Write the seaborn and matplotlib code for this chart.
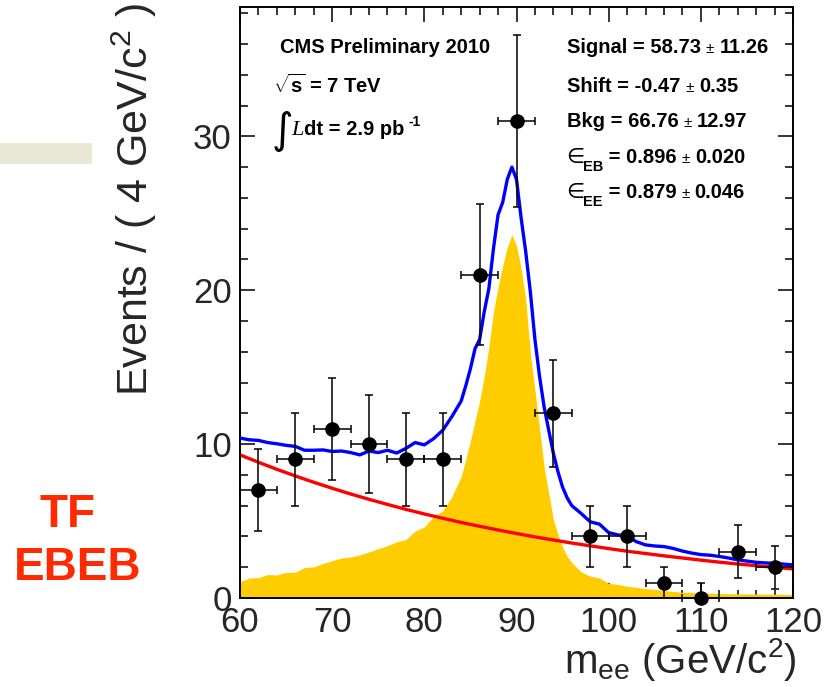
import matplotlib
matplotlib.use("Agg")
import matplotlib.pyplot as plt
from matplotlib.ticker import MultipleLocator
from matplotlib.patches import Rectangle
import numpy as np
import pandas as pd
import seaborn as sns

# ---------------- data ----------------
bin_centers = [62, 66, 70, 74, 78, 82, 86, 90, 94, 98, 102, 106, 110, 114, 118]
counts = [7, 9, 11, 10, 9, 9, 21, 31, 12, 4, 4, 1, 0, 3, 2]
err_low = [2.65, 3.0, 3.32, 3.16, 3.0, 3.0, 4.58, 5.57, 3.46, 2.0, 2.0, 1.0, 0.0, 1.73, 1.41]
err_high = [2.65, 3.0, 3.32, 3.16, 3.0, 3.0, 4.58, 5.57, 3.46, 2.0, 2.0, 1.0, 1.0, 1.73, 1.41]
bin_half_width = 2.0

curve_mass = [60, 61, 62, 63, 64, 65, 66, 67, 68, 69, 70, 71, 72, 73, 74, 75, 76, 77, 78, 79,
              80, 81, 82, 83, 84, 84.5, 85, 85.5, 86, 86.5, 87, 87.5, 88, 88.5, 89, 89.5,
              90, 90.5, 91, 91.5, 92, 92.5, 93, 93.5, 94, 94.5, 95, 95.5, 96, 97, 98, 99,
              100, 101, 102, 103, 104, 105, 106, 107, 108, 109, 110, 111, 112, 113, 114,
              115, 116, 117, 118, 119, 120]
signal_shape = [1.05, 1.3, 1.32, 1.52, 1.5, 1.66, 1.68, 1.98, 2.02, 2.25, 2.42, 2.6, 2.66, 2.8,
                3.0, 3.2, 3.4, 3.65, 3.8, 4.35, 4.62, 5.3, 5.65, 6.6, 7.9, 9.0, 10.2, 11.5,
                12.8, 14.4, 16.3, 18.6, 20.2, 21.6, 22.8, 23.6, 22.9, 21.4, 19.4, 15.9, 13.5,
                11.0, 8.5, 6.8, 5.1, 4.1, 3.3, 2.7, 2.3, 1.7, 1.42, 1.3, 0.95, 0.88, 0.76, 0.7,
                0.6, 0.56, 0.48, 0.43, 0.37, 0.36, 0.3, 0.31, 0.29, 0.28, 0.27, 0.27, 0.26, 0.25,
                0.25, 0.24, 0.24]
total_fit = [10.39, 10.28, 10.24, 10.1, 10.02, 9.92, 9.85, 9.6, 9.6, 9.62, 9.52, 9.55, 9.45,
             9.3, 9.55, 9.45, 9.6, 9.42, 9.72, 10.1, 9.95, 10.35, 10.9, 11.8, 12.8, 13.8, 14.9,
             16.2, 16.8, 18.6, 20.1, 22.7, 24.9, 25.7, 27.2, 28.0, 27.2, 24.7, 22.5, 19.9, 16.8,
             14.4, 12.4, 10.9, 9.4, 8.2, 7.2, 6.5, 6.0, 5.5, 4.95, 4.8, 4.25, 4.1, 4.02, 3.66,
             3.45, 3.38, 3.34, 3.22, 3.05, 2.92, 2.82, 2.78, 2.7, 2.6, 2.48, 2.4, 2.32, 2.28,
             2.25, 2.2, 2.15]

bkg_mass = [60, 62, 64, 66, 68, 70, 72, 74, 76, 78, 80, 82, 84, 86, 88, 90, 92, 94, 96, 98,
            100, 102, 104, 106, 108, 110, 112, 114, 116, 118, 120]
bkg_fit = [9.30, 8.82, 8.36, 7.93, 7.52, 7.13, 6.76, 6.41, 6.08, 5.76, 5.46, 5.18, 4.91, 4.66,
           4.42, 4.19, 3.97, 3.77, 3.57, 3.39, 3.21, 3.04, 2.89, 2.74, 2.60, 2.46, 2.33, 2.21,
           2.10, 1.99, 1.89]

x_ticks = [60, 70, 80, 90, 100, 110, 120]
y_ticks = [0, 10, 20, 30]

fit_lines = [
    "Signal = 58.73", "11.26",
    "Shift = -0.47", "0.35",
    "Bkg = 66.76", "12.97",
]

# ---------------- style ----------------
sns.set_theme(style="ticks")
plt.rcParams["font.family"] = ["Liberation Sans", "DejaVu Sans"]
plt.rcParams["mathtext.fontset"] = "custom"
plt.rcParams["mathtext.rm"] = "Liberation Sans"
plt.rcParams["mathtext.it"] = "Liberation Sans:italic"
plt.rcParams["mathtext.bf"] = "Liberation Sans:bold"

W, H = 836, 687
fig = plt.figure(figsize=(W / 100, H / 100), dpi=100)
fig.patch.set_facecolor("white")
ax = fig.add_axes([240 / W, 1 - 598 / H, 553 / W, 591 / H])
ax.set_facecolor("white")

df_curve = pd.DataFrame({"mass": curve_mass, "signal": signal_shape, "total": total_fit})
df_bkg = pd.DataFrame({"mass": bkg_mass, "bkg": bkg_fit})

ax.fill_between(df_curve["mass"], 0, df_curve["signal"], color="#ffcc00", lw=0, zorder=1)
sns.lineplot(data=df_bkg, x="mass", y="bkg", color="#ff0000", lw=2.4, ax=ax, zorder=2)
sns.lineplot(data=df_curve, x="mass", y="total", color="#0000ff", lw=2.4, ax=ax, zorder=3)

ax.errorbar(bin_centers, counts, yerr=[err_low, err_high], xerr=bin_half_width,
            fmt="o", color="black", ms=9.5, elinewidth=1.1, capsize=2.6, capthick=1.1,
            zorder=5, clip_on=False)

ax.set_xlim(60, 120)
ax.set_ylim(0, 38.4)
ax.set_xticks(x_ticks)
ax.set_yticks(y_ticks)
ax.xaxis.set_minor_locator(MultipleLocator(2))
ax.yaxis.set_minor_locator(MultipleLocator(2))
ax.tick_params(which="both", direction="in", top=True, right=True, color="black")
ax.tick_params(which="major", length=11, width=1.1, labelsize=25, pad=6)
ax.tick_params(which="minor", length=5.5, width=1.1)
ax.tick_params(axis="x", which="major", pad=6)
for sp in ax.spines.values():
    sp.set_linewidth(1.4)
    sp.set_color("black")
ax.set_xlabel("")
ax.set_ylabel("")

# axis titles
fig.text(134 / W, 1 - 3 / H, r"Events / ( 4 GeV/c$^{2}$ )", rotation=90,
         ha="center", va="top", fontsize=31)
fig.text(797 / W, 1 - 673 / H, r"m$_{\mathrm{ee}}$ (GeV/c$^{2}$)",
         ha="right", va="baseline", fontsize=29)

# left decorations
fig.patches.append(Rectangle((0, 1 - 164 / H), 92 / W, 21 / H, transform=fig.transFigure,
                             facecolor="#e9e7d6", edgecolor="none"))
fig.text(67 / W, 1 - 527 / H, "TF", ha="center", va="baseline", fontsize=33,
         fontweight="bold", color="#ff2a00")
fig.text(78 / W, 1 - 580 / H, "EBEB", ha="center", va="baseline", fontsize=33,
         fontweight="bold", color="#ff2a00")

renderer = fig.canvas.get_renderer()


def run_text(x, y, pieces):
    for s, kw, dx, dy in pieces:
        x += dx
        t = fig.text(x / W, 1 - (y + dy) / H, s, ha="left", va="baseline", **kw)
        x += t.get_window_extent(renderer).width


B = dict(fontsize=14.5, fontweight="bold", color="black")
PM = dict(fontsize=11, fontweight="normal", color="black")

run_text(280, 53, [("CMS Preliminary 2010", B, 0, 0)])
run_text(273, 93, [(r"$\sqrt{\mathbf{s}}$ = 7 TeV", B, 0, 0)])
run_text(272, 135, [("\u222b", dict(fontsize=30, family="DejaVu Sans", color="black"), 0, 8),
                    ("L", dict(fontsize=16, family="Liberation Serif", style="italic",
                               color="black"), -2, 0),
                    ("dt = 2.9 pb", B, 0, 0),
                    ("-1", dict(fontsize=10, fontweight="bold", color="black"), 4, -9)])

baselines = [53, 92, 127]
for i in range(3):
    run_text(567, baselines[i], [(fit_lines[2 * i], B, 0, 0), ("\u00b1", PM, 5, 0),
                                 (fit_lines[2 * i + 1], B, 5, 0)])

EPS = dict(fontsize=15, family="DejaVu Sans", color="black")
SUB = dict(fontsize=10.5, fontweight="bold", color="black")
run_text(566, 163, [("\u2208", EPS, 0, 0), ("EB", SUB, -1, 8), (" = 0.896", B, 0, 0),
                    ("\u00b1", PM, 5, 0), ("0.020", B, 5, 0)])
run_text(566, 198, [("\u2208", EPS, 0, 0), ("EE", SUB, -1, 8), (" = 0.879", B, 0, 0),
                    ("\u00b1", PM, 5, 0), ("0.046", B, 5, 0)])

fig.savefig("out.png", dpi=100)
